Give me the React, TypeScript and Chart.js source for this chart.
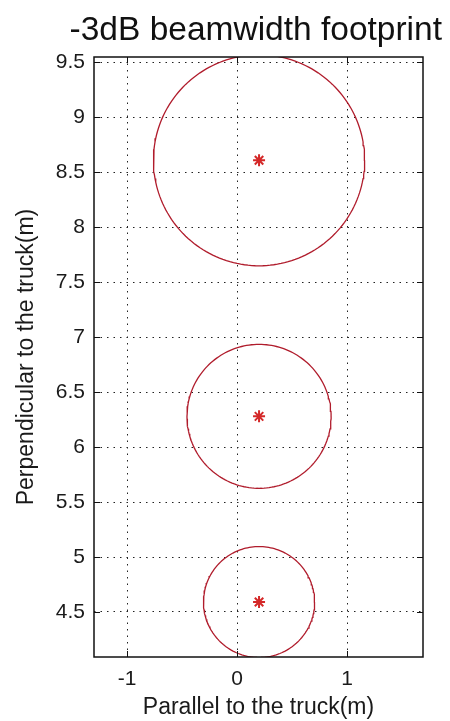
import React, { useEffect, useRef } from "react";
import { Chart, registerables } from "chart.js";

Chart.register(...registerables);

// ---- data ----
const titleText = "-3dB beamwidth footprint";
const xAxisTitle = "Parallel to the truck(m)";
const yAxisTitle = "Perpendicular to the truck(m)";

const xTicks = [-1, 0, 1];
const xTickLabels = ["-1", "0", "1"];
const yTicks = [4.5, 5, 5.5, 6, 6.5, 7, 7.5, 8, 8.5, 9, 9.5];
const yTickLabels = ["4.5", "5", "5.5", "6", "6.5", "7", "7.5", "8", "8.5", "9", "9.5"];

const xRange = [-1.3, 1.69];
const yRange = [4.09, 9.55];

// footprint centres (asterisks) and -3dB radii
const centerX = [0.2, 0.2, 0.2];
const centerY = [8.61, 6.28, 4.59];
const radius = [0.96, 0.655, 0.505];

const FONT = "Arial, 'Liberation Sans', sans-serif";
const CIRCLE_COLOR = "#b01c2c";
const STAR_COLOR = "#d42828";

function circlePoints(cx: number, cy: number, r: number) {
  const pts: { x: number; y: number }[] = [];
  const n = 180;
  for (let i = 0; i <= n; i++) {
    const t = (i / n) * Math.PI * 2;
    pts.push({ x: cx + r * Math.cos(t), y: cy + r * Math.sin(t) });
  }
  return pts;
}

const boxPlugin = {
  id: "matlabBox",
  afterDatasetsDraw(chart: any) {
    const { ctx, chartArea: a, scales } = chart;
    const xs = scales.x;
    const ys = scales.y;
    const tl = 6;
    ctx.save();
    ctx.strokeStyle = "#111";
    ctx.lineWidth = 1;
    ctx.beginPath();
    xTicks.forEach((v) => {
      const px = Math.round(xs.getPixelForValue(v)) + 0.5;
      ctx.moveTo(px, a.bottom);
      ctx.lineTo(px, a.bottom - tl);
      ctx.moveTo(px, a.top);
      ctx.lineTo(px, a.top + tl);
    });
    yTicks.forEach((v) => {
      const py = Math.round(ys.getPixelForValue(v)) + 0.5;
      ctx.moveTo(a.left, py);
      ctx.lineTo(a.left + tl, py);
      ctx.moveTo(a.right, py);
      ctx.lineTo(a.right - tl, py);
    });
    ctx.stroke();
    ctx.lineWidth = 1.5;
    ctx.strokeRect(a.left, a.top, a.right - a.left, a.bottom - a.top);
    ctx.restore();
  },
};

export default function App() {
  const ref = useRef<HTMLCanvasElement | null>(null);

  useEffect(() => {
    if (!ref.current) return;
    const circleSets = centerX.map((cx, i) => ({
      type: "scatter" as const,
      label: "footprint " + (i + 1),
      data: circlePoints(cx, centerY[i], radius[i]),
      showLine: true,
      borderColor: CIRCLE_COLOR,
      borderWidth: 1.3,
      pointRadius: 0,
      fill: false,
      tension: 0,
    }));
    const starSet = {
      type: "scatter" as const,
      label: "centres",
      data: centerX.map((cx, i) => ({ x: cx, y: centerY[i] })),
      showLine: false,
      pointStyle: "star",
      pointRadius: 6,
      borderColor: STAR_COLOR,
      backgroundColor: STAR_COLOR,
      pointBorderWidth: 2,
    };

    const chart = new Chart(ref.current, {
      type: "scatter",
      data: { datasets: [...circleSets, starSet] as any },
      options: {
        animation: false,
        responsive: false,
        maintainAspectRatio: false,
        layout: { padding: { left: 0, right: 8, top: 0, bottom: 0 } },
        plugins: {
          legend: { display: false },
          tooltip: { enabled: false },
          title: {
            display: true,
            text: titleText,
            color: "#111",
            font: { family: FONT, size: 33.5, weight: "normal", lineHeight: 1.2 },
            padding: { top: 10.8, bottom: 6 },
            fullSize: true,
            align: "end",
          } as any,
        },
        scales: {
          x: {
            type: "linear",
            min: xRange[0],
            max: xRange[1],
            afterBuildTicks: (s: any) => {
              s.ticks = xTicks.map((v) => ({ value: v }));
            },
            afterFit: (s: any) => {
              s.height = 64;
            },
            ticks: {
              color: "#1a1a1a",
              font: { family: FONT, size: 21 },
              padding: 10,
              maxRotation: 0,
              autoSkip: false,
              callback: (v: any) => {
                const i = xTicks.indexOf(Number(v));
                return i >= 0 ? xTickLabels[i] : "";
              },
            },
            grid: { color: "#222", lineWidth: 1, drawTicks: false },
            border: { display: false, dash: [1.5, 5] },
            title: {
              display: true,
              text: xAxisTitle,
              color: "#1a1a1a",
              font: { family: FONT, size: 23, lineHeight: 1.2 },
              padding: { top: 0, bottom: 0 },
            },
          },
          y: {
            type: "linear",
            min: yRange[0],
            max: yRange[1],
            afterBuildTicks: (s: any) => {
              s.ticks = yTicks.map((v) => ({ value: v }));
            },
            afterFit: (s: any) => {
              s.width = 94;
            },
            ticks: {
              color: "#1a1a1a",
              font: { family: FONT, size: 21 },
              padding: 9,
              autoSkip: false,
              callback: (v: any) => {
                const i = yTicks.indexOf(Number(v));
                return i >= 0 ? yTickLabels[i] : "";
              },
            },
            grid: { color: "#222", lineWidth: 1, drawTicks: false },
            border: { display: false, dash: [1.5, 5] },
            title: {
              display: true,
              text: yAxisTitle,
              color: "#1a1a1a",
              font: { family: FONT, size: 23, lineHeight: 1.2 },
              padding: { top: 13, bottom: 0 },
            },
          },
          yRight: {
            type: "linear",
            position: "right",
            min: yRange[0],
            max: yRange[1],
            ticks: { display: false },
            grid: { display: false, drawTicks: false },
            border: { display: false },
            afterFit: (s: any) => {
              s.width = 19;
            },
          },
        },
      },
      plugins: [boxPlugin],
    });
    return () => chart.destroy();
  }, []);

  return (
    <div style={{ position: "absolute", left: 0, top: 0, width: 450, height: 721, background: "#fff" }}>
      <canvas ref={ref} width={450} height={721} style={{ display: "block", width: 450, height: 721 }} />
    </div>
  );
}
